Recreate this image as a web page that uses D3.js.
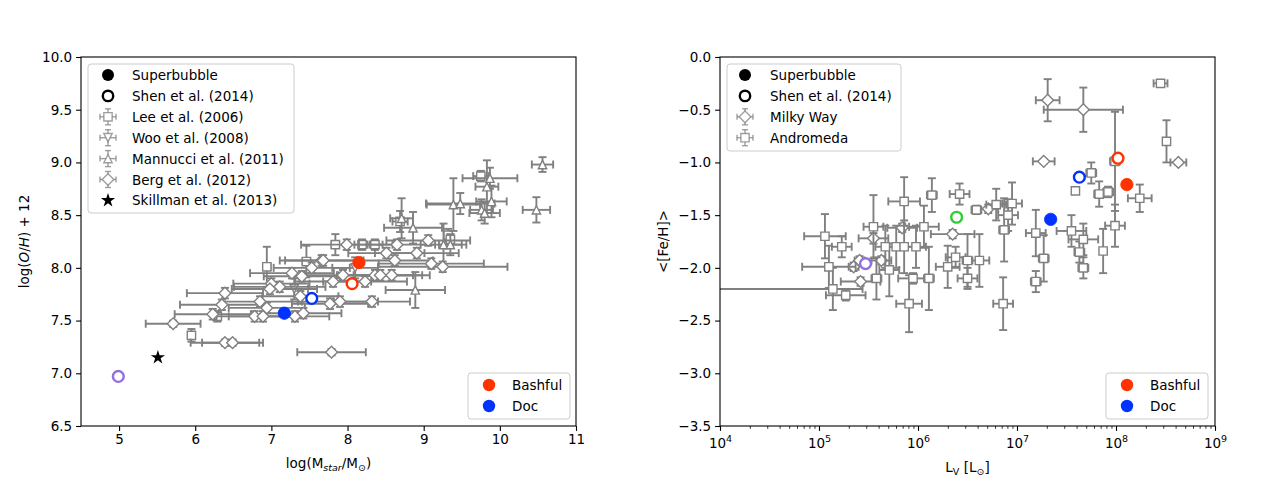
<!DOCTYPE html>
<html><head><meta charset="utf-8">
<script src="https://cdn.jsdelivr.net/npm/d3@7"></script>
<style>body{margin:0;background:#fff} text{font-family:"DejaVu Sans",sans-serif;fill:#000}</style>
</head><body><svg id="c" width="1280" height="480"></svg>
<script>
// ---------- LEFT PANEL DATA: [logM*, 12+log(O/H), xerr, yerr] ----------
const leeRows = [
  [5.95,7.36,0.03,0.06],[6.29,7.54,0.04,0.05],[6.94,8.01,0.05,0.19],[7.46,8.06,0.05,0.15],
  [7.84,8.22,0.05,0.10],[8.19,8.22,0.10,0.05],[8.36,8.22,0.10,0.05],[8.69,8.44,0.10,0.10],
  [9.32,8.31,0.05,0.06],[9.35,8.27,0.05,0.05],[9.75,8.87,0.10,0.05]
];
const wooRows = [[7.30,7.80,0.30,0.10],[8.10,8.00,0.30,0.10]];
const mannucciRows = [
  [10.56,8.98,0.14,0.07],[9.87,8.85,0.36,0.10],[9.83,8.77,0.15,0.25],[9.89,8.63,0.20,0.15],
  [10.48,8.55,0.18,0.12],[9.76,8.55,0.15,0.10],[9.80,8.52,0.20,0.10],[9.39,8.60,0.35,0.25],
  [9.48,8.61,0.45,0.10],[8.71,8.47,0.15,0.19],[8.86,8.38,0.38,0.15],[9.26,8.22,0.30,0.20],
  [9.35,8.22,0.15,0.10],[8.89,7.79,0.39,0.17]
];
const bergRows = [
  [5.71,7.47,0.36,0.03],[6.39,7.29,0.45,0.03],[6.49,7.29,0.40,0.03],[7.79,7.20,0.45,0.03],
  [6.23,7.56,0.50,0.05],[6.35,7.65,0.55,0.05],[6.39,7.76,0.50,0.05],[6.78,7.54,0.50,0.05],
  [6.89,7.54,0.45,0.05],[6.85,7.68,0.50,0.05],[6.94,7.62,0.50,0.05],[7.00,7.85,0.50,0.05],
  [7.11,7.82,0.60,0.05],[7.27,7.95,0.55,0.05],[7.38,7.73,0.50,0.05],[7.31,7.54,0.45,0.05],
  [7.42,7.57,0.50,0.05],[7.53,8.00,0.50,0.05],[7.66,8.07,0.55,0.05],[7.77,7.66,0.50,0.05],
  [7.81,7.87,0.50,0.05],[7.99,8.22,0.60,0.05],[8.65,8.22,0.50,0.05],[9.06,8.26,0.55,0.05],
  [8.51,8.14,0.50,0.05],[8.62,8.07,0.50,0.05],[8.91,8.14,0.55,0.05],[9.10,8.04,0.69,0.05],
  [9.25,8.01,0.85,0.05],[8.36,7.93,0.50,0.05],[8.43,7.93,0.55,0.05],[8.58,7.93,0.50,0.05],
  [7.94,7.93,0.50,0.05],[8.23,7.87,0.55,0.05],[7.90,7.68,0.50,0.05],[8.32,7.68,0.50,0.05],
  [7.40,7.92,0.50,0.05],[6.98,7.80,0.50,0.05],[7.68,8.07,0.50,0.05]
];
const skillmanRows = [[5.51,7.15]];
// Superbubble (filled) and Shen et al. 2014 (open): [x, y, colour]
const leftFilled = [[8.15,8.05,"#ff3300"],[7.17,7.57,"#0033ff"]];
const leftOpen = [[8.06,7.85,"#ff3300"],[7.53,7.71,"#0033ff"],[4.99,6.97,"#9370db"]];
const leftXTicks = [5,6,7,8,9,10,11];
const leftYTicks = [6.5,7.0,7.5,8.0,8.5,9.0,9.5,10.0];

// ---------- RIGHT PANEL DATA: [log L_V, <[Fe/H]>, xerr(dex) or [lo,hi], yerr] ----------
const milkyWayRows = [
  [7.31,-0.41,0.12,0.20],[7.67,-0.50,0.40,0.21],[7.27,-0.99,0.11,0.02],[8.63,-1.00,0.08,0.02],
  [5.84,-1.62,0.15,0.04],[5.55,-1.72,0.15,0.05],[6.35,-1.68,0.22,0.04],[6.71,-1.44,0.10,0.04],
  [5.41,-1.93,0.05,0.04],[5.35,-1.99,0.05,0.04],[5.63,-1.93,0.10,0.04],[5.42,-2.13,0.20,0.04]
];
const andromedaRows = [
  [5.86,-1.37,0.16,0.23],[6.14,-1.31,0.05,0.16],[6.42,-1.30,0.10,0.10],[6.59,-1.45,0.05,0.04],
  [6.79,-1.40,0.10,0.15],[6.95,-1.39,0.10,0.20],[6.91,-1.50,0.10,0.15],[6.87,-1.64,0.05,0.30],
  [5.06,-1.70,0.21,0.21],[5.23,-1.80,0.10,0.10],[5.55,-1.61,0.10,0.30],[5.67,-1.80,0.10,0.20],
  [5.78,-1.80,0.10,0.20],[5.86,-1.80,0.10,0.25],[5.98,-1.80,0.10,0.20],[6.06,-1.61,0.15,0.20],
  [5.10,-1.99,0.27,0.20],[5.14,-2.20,[1.3,0.3],0.20],[5.27,-2.26,0.20,0.05],[5.71,-2.02,0.10,0.25],
  [5.58,-2.10,0.05,0.20],[5.95,-2.10,0.15,0.05],[6.11,-2.10,0.05,0.30],[5.91,-2.34,0.13,0.27],
  [6.30,-1.99,0.12,0.20],[6.38,-1.90,0.10,0.10],[6.50,-1.93,0.05,0.25],[6.62,-1.93,0.10,0.25],
  [6.50,-2.10,0.10,0.10],[6.86,-2.34,0.10,0.25],[7.19,-1.67,0.10,0.22],[7.27,-1.91,0.05,0.22],
  [7.19,-2.13,0.05,0.10],[7.75,-1.10,0.05,0.10],[7.59,-1.27,0,0],[7.83,-1.30,0.05,0.12],
  [7.92,-1.28,0.05,0.05],[8.24,-1.34,0.12,0.13],[7.99,-0.99,0.05,0.47],[7.99,-1.60,0.10,0.20],
  [7.55,-1.65,0.15,0.15],[7.67,-1.73,0.15,0.15],[7.63,-1.85,0.05,0.10],[7.67,-2.00,0.05,0.10],
  [7.87,-1.84,0.03,0.21],[8.45,-0.25,0.07,0.02],[8.51,-0.80,0.03,0.20]
];
const rightFilled = [[8.11,-1.21,"#ff3300"],[7.34,-1.54,"#0033ff"]];
const rightOpen = [[8.02,-0.96,"#ff3300"],[7.63,-1.14,"#0033ff"],[6.39,-1.52,"#32cd32"],[5.47,-1.96,"#9370db"]];
const rightXTickExp = [4,5,6,7,8,9];
const rightYTicks = [0.0,-0.5,-1.0,-1.5,-2.0,-2.5,-3.0,-3.5];

const leftLegend = ["Superbubble","Shen et al. (2014)","Lee et al. (2006)","Woo et al. (2008)","Mannucci et al. (2011)","Berg et al. (2012)","Skillman et al. (2013)"];
const rightLegend = ["Superbubble","Shen et al. (2014)","Milky Way","Andromeda"];
const dwarfLegend = [["Bashful","#ff3300"],["Doc","#0033ff"]];

// ---------- DRAWING ----------
const svg = d3.select("#c");
const GRAY = "#808080";
const FS = 13.5;
const TOPY = 57, BOTY = 426;

const xL = d3.scaleLinear().domain([4.5,11]).range([81,576]);
const yL = d3.scaleLinear().domain([6.5,10]).range([BOTY,TOPY]);
const xR = d3.scaleLog().domain([1e4,1e9]).range([720,1215]);
const yR = d3.scaleLinear().domain([-3.5,0]).range([BOTY,TOPY]);

function shape(type, s){
  const h = s/2;
  if(type==="D"){const r=s*0.7071; return `M0,${-r}L${r},0L0,${r}L${-r},0Z`;}
  if(type==="s") return `M${-h},${-h}H${h}V${h}H${-h}Z`;
  if(type==="^") return `M0,${-h}L${h},${h}L${-h},${h}Z`;
  if(type==="v") return `M0,${h}L${h},${-h}L${-h},${-h}Z`;
  if(type==="*"){
    let p="";for(let i=0;i<10;i++){const a=-Math.PI/2+i*Math.PI/5;const r=i%2?h*0.38:h;p+=(i?"L":"M")+(r*Math.cos(a)).toFixed(2)+","+(r*Math.sin(a)).toFixed(2);}return p+"Z";
  }
}

function clipFor(id,x0,x1){
  svg.append("clipPath").attr("id",id).append("rect").attr("x",x0).attr("y",TOPY).attr("width",x1-x0).attr("height",BOTY-TOPY);
}
clipFor("cl",81,576); clipFor("cr",720,1215);

function errSeries(g, rows, xf, yf, marker, ms){
  const eg = g.append("g").attr("stroke",GRAY).attr("stroke-width",1.9).attr("fill","none");
  const cap = 4;
  rows.forEach(r=>{
    const [x,y,xe,ye]=r;
    const [xl,xh]=Array.isArray(xe)?xe:[xe,xe];
    const py=yf(y), px=xf(x);
    if(xl||xh){
      const a=xf(x-xl), b=xf(x+xh);
      eg.append("line").attr("x1",a).attr("x2",b).attr("y1",py).attr("y2",py);
      eg.append("line").attr("x1",a).attr("x2",a).attr("y1",py-cap).attr("y2",py+cap);
      eg.append("line").attr("x1",b).attr("x2",b).attr("y1",py-cap).attr("y2",py+cap);
    }
    if(ye){
      const a=yf(y-ye), b=yf(y+ye);
      eg.append("line").attr("x1",px).attr("x2",px).attr("y1",a).attr("y2",b);
      eg.append("line").attr("x1",px-cap).attr("x2",px+cap).attr("y1",a).attr("y2",a);
      eg.append("line").attr("x1",px-cap).attr("x2",px+cap).attr("y1",b).attr("y2",b);
    }
  });
  g.append("g").selectAll("path").data(rows).join("path")
    .attr("d",shape(marker,ms)).attr("transform",d=>`translate(${xf(d[0])},${yf(d[1])})`)
    .attr("fill","#fff").attr("stroke",GRAY).attr("stroke-width",1.4);
}
function circles(g, rows, xf, yf, filled){
  g.append("g").selectAll("circle").data(rows).join("circle")
    .attr("cx",d=>xf(d[0])).attr("cy",d=>yf(d[1]))
    .attr("r",filled?6.2:5.4)
    .attr("fill",d=>filled?d[2]:"#fff")
    .attr("stroke",d=>d[2]).attr("stroke-width",filled?0.8:2.4);
}

// ---- left panel ----
const gl = svg.append("g").attr("clip-path","url(#cl)");
const lx = v=>xL(v), ly = v=>yL(v);
errSeries(gl, leeRows, lx, ly, "s", 8.3);
errSeries(gl, wooRows, lx, ly, "v", 8.3);
errSeries(gl, mannucciRows, lx, ly, "^", 8.3);
errSeries(gl, bergRows, lx, ly, "D", 8.3);
gl.append("g").selectAll("path").data(skillmanRows).join("path")
  .attr("d",shape("*",15)).attr("transform",d=>`translate(${lx(d[0])},${ly(d[1])})`).attr("fill","#000");
circles(gl, leftFilled, lx, ly, true);
circles(gl, leftOpen, lx, ly, false);

// ---- right panel ----
const gr = svg.append("g").attr("clip-path","url(#cr)");
const rx = v=>xR(Math.pow(10,v)), ry = v=>yR(v);
errSeries(gr, milkyWayRows, rx, ry, "D", 8.3);
errSeries(gr, andromedaRows, rx, ry, "s", 8.3);
circles(gr, rightFilled, rx, ry, true);
circles(gr, rightOpen, rx, ry, false);

// ---- axes ----
function frame(x0,x1){
  svg.append("rect").attr("x",x0).attr("y",TOPY).attr("width",x1-x0).attr("height",BOTY-TOPY)
    .attr("fill","none").attr("stroke","#000").attr("stroke-width",1.1);
}
function styleAxis(g){
  g.select(".domain").remove();
  g.selectAll("text").style("font-family","DejaVu Sans").style("font-size",FS+"px").attr("fill","#000");
  g.selectAll("line").attr("stroke","#000").attr("stroke-width",1.1);
}
const fmt1 = d=>d.toFixed(1).replace("-","\u2212");
styleAxis(svg.append("g").attr("transform",`translate(0,${BOTY})`)
  .call(d3.axisBottom(xL).tickValues(leftXTicks).tickFormat(d3.format("d")).tickSize(4.9).tickPadding(4)));
styleAxis(svg.append("g").attr("transform",`translate(81,0)`)
  .call(d3.axisLeft(yL).tickValues(leftYTicks).tickFormat(fmt1).tickSize(4.9).tickPadding(4)));
styleAxis(svg.append("g").attr("transform",`translate(720,0)`)
  .call(d3.axisLeft(yR).tickValues(rightYTicks).tickFormat(fmt1).tickSize(4.9).tickPadding(4)));
// log x axis
const minor=[];
rightXTickExp.slice(0,-1).forEach(e=>{for(let k=2;k<10;k++)minor.push(k*Math.pow(10,e));});
const gxm = svg.append("g").attr("transform",`translate(0,${BOTY})`)
  .call(d3.axisBottom(xR).tickValues(minor).tickFormat("").tickSize(2.8));
gxm.select(".domain").remove(); gxm.selectAll("line").attr("stroke","#000").attr("stroke-width",0.8);
const gxr = svg.append("g").attr("transform",`translate(0,${BOTY})`)
  .call(d3.axisBottom(xR).tickValues(rightXTickExp.map(e=>Math.pow(10,e))).tickFormat("").tickSize(4.9));
styleAxis(gxr);
gxr.selectAll(".tick").append("text").attr("y",22).attr("text-anchor","middle")
  .style("font-size",FS+"px").attr("fill","#000")
  .each(function(d){
    const t=d3.select(this); const e=Math.round(Math.log10(d));
    t.append("tspan").text("10");
    t.append("tspan").attr("dy",-6).style("font-size","9.5px").text(e);
  });
frame(81,576); frame(720,1215);

// ---- axis labels ----
function label(x,y,parts,rot){
  const t=svg.append("text").attr("x",x).attr("y",y).attr("text-anchor","middle").style("font-size",FS+"px");
  if(rot) t.attr("transform",`rotate(-90,${x},${y})`);
  parts.forEach(p=>{
    const s=t.append("tspan").text(p.t);
    if(p.i) s.style("font-style","italic");
    if(p.sub){ s.style("font-size","9.5px").attr("dy",3); }
    if(p.up){ s.attr("dy",-3); }
  });
}
label(328.5,468,[{t:"log(M"},{t:"star",i:1,sub:1},{t:"/M",up:1},{t:"\u2299",sub:1},{t:")",up:1}]);
label(29,241.5,[{t:"log("},{t:"O",i:1},{t:"/"},{t:"H",i:1},{t:") + 12"}],true);
label(967.5,472,[{t:"L"},{t:"V",sub:1},{t:" [L",up:1},{t:"\u2299",sub:1},{t:"]",up:1}]);
label(668,241.5,[{t:"<[Fe/H]>"}],true);

// ---- legends ----
function legendBox(x,y,w,h){
  svg.append("rect").attr("x",x).attr("y",y).attr("width",w).attr("height",h).attr("rx",3)
    .attr("fill","#fff").attr("fill-opacity",0.85).attr("stroke","#cccccc").attr("stroke-width",1);
}
function legendIcon(g,type,cx,cy){
  if(type==="fill"){g.append("circle").attr("cx",cx).attr("cy",cy).attr("r",6).attr("fill","#000");return;}
  if(type==="open"){g.append("circle").attr("cx",cx).attr("cy",cy).attr("r",5.2).attr("fill","#fff").attr("stroke","#000").attr("stroke-width",2.4);return;}
  if(type==="*"){g.append("path").attr("d",shape("*",15)).attr("transform",`translate(${cx},${cy})`).attr("fill","#000");return;}
  const e=g.append("g").attr("stroke",GRAY).attr("stroke-opacity",0.75).attr("stroke-width",1.4);
  e.append("line").attr("x1",cx).attr("x2",cx).attr("y1",cy-8).attr("y2",cy+8);
  e.append("line").attr("x1",cx-3).attr("x2",cx+3).attr("y1",cy-8).attr("y2",cy-8);
  e.append("line").attr("x1",cx-3).attr("x2",cx+3).attr("y1",cy+8).attr("y2",cy+8);
  e.append("line").attr("x1",cx-8).attr("x2",cx+8).attr("y1",cy).attr("y2",cy);
  e.append("line").attr("x1",cx-8).attr("x2",cx-8).attr("y1",cy-3).attr("y2",cy+3);
  e.append("line").attr("x1",cx+8).attr("x2",cx+8).attr("y1",cy-3).attr("y2",cy+3);
  g.append("path").attr("d",shape(type,8.3)).attr("transform",`translate(${cx},${cy})`)
    .attr("fill","#fff").attr("stroke",GRAY).attr("stroke-opacity",0.75).attr("stroke-width",1.4);
}
function legend(x,y,w,h,items,types,mx,tx,dy){
  legendBox(x,y,w,h);
  const g=svg.append("g");
  items.forEach((s,i)=>{
    const cy=y+11+i*dy;
    legendIcon(g,types[i],mx,cy);
    g.append("text").attr("x",tx).attr("y",cy+5).style("font-size",FS+"px").text(s);
  });
}
legend(88,64,206,149,leftLegend,["fill","open","s","v","^","D","*"],108,132,20.9);
legend(727,64,174,87,rightLegend,["fill","open","D","s"],745,770,20.9);
function dwarfLeg(x){
  legendBox(x,373,102,46);
  dwarfLegend.forEach((d,i)=>{
    const cy=385+i*21;
    svg.append("circle").attr("cx",x+21).attr("cy",cy).attr("r",6.2).attr("fill",d[1]);
    svg.append("text").attr("x",x+44).attr("y",cy+5).style("font-size",FS+"px").text(d[0]);
  });
}
dwarfLeg(468); dwarfLeg(1106);
</script></body></html>
